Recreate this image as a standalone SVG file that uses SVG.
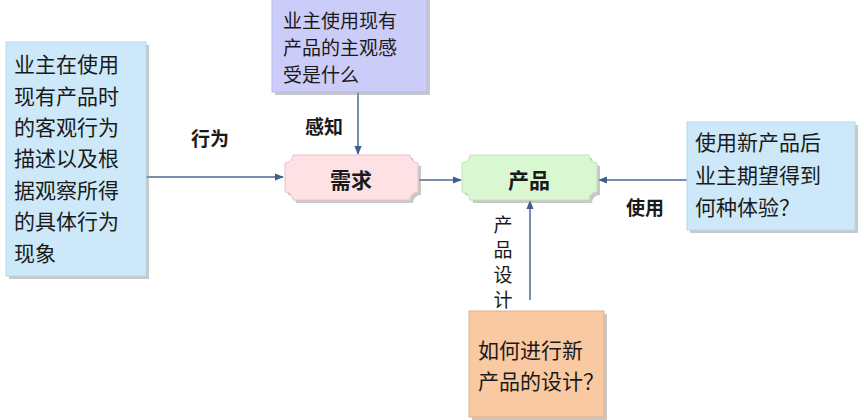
<svg xmlns="http://www.w3.org/2000/svg" width="864" height="420" viewBox="0 0 864 420">
<defs>
<marker id="ah" viewBox="0 0 10 10" refX="9" refY="5" markerWidth="9" markerHeight="9" markerUnits="userSpaceOnUse" orient="auto">
<path d="M0,1 L10,5 L0,9 Z" fill="#3d5f8a"/>
</marker>
</defs>
<style>
text{font-family:"Noto Sans CJK SC","Noto Sans",sans-serif;fill:#1a1a1a}
.t{font-size:21px}
.s{font-size:19px}
.b{font-size:19px;font-weight:bold}
.c{font-size:21px;font-weight:bold}
.shadow{fill:#9a9a9a;opacity:0.55}
.line{stroke:#4a6890;stroke-width:1.5;fill:none}
</style>
<rect width="864" height="420" fill="#ffffff"/>
<g id="connectors">
<line class="line" x1="146" y1="177" x2="283" y2="177" marker-end="url(#ah)"/>
<line class="line" x1="358" y1="92" x2="358" y2="154" marker-end="url(#ah)"/>
<line class="line" x1="419" y1="180" x2="461" y2="180" marker-end="url(#ah)"/>
<line class="line" x1="687" y1="180" x2="599" y2="180" marker-end="url(#ah)"/>
<line class="line" x1="530" y1="300" x2="530" y2="201" marker-end="url(#ah)"/>
<text class="b" x="210" y="146" text-anchor="middle">行为</text>
<text class="b" x="324" y="134" text-anchor="middle">感知</text>
<text class="b" x="645" y="215" text-anchor="middle">使用</text>
<text class="s" x="503" y="232" text-anchor="middle">产</text>
<text class="s" x="503" y="257" text-anchor="middle">品</text>
<text class="s" x="503" y="282" text-anchor="middle">设</text>
<text class="s" x="503" y="307" text-anchor="middle">计</text>
</g>
<g id="left">
<rect class="shadow" x="9" y="45" width="140" height="234"/>
<rect x="6" y="42" width="140" height="234" fill="#cde9f9" stroke="#b8d8ee" stroke-width="1"/>
<text class="t" x="14" y="72">业主在使用</text>
<text class="t" x="14" y="104">现有产品时</text>
<text class="t" x="14" y="135">的客观行为</text>
<text class="t" x="14" y="166">描述以及根</text>
<text class="t" x="14" y="198">据观察所得</text>
<text class="t" x="14" y="229">的具体行为</text>
<text class="t" x="14" y="261">现象</text>
</g>
<g id="top">
<rect class="shadow" x="275" y="0" width="155" height="95"/>
<rect x="272" y="-1" width="155" height="93" fill="#ccccf8" stroke="#b8b8e8" stroke-width="1"/>
<text class="s" x="283" y="28">业主使用现有</text>
<text class="s" x="283" y="55">产品的主观感</text>
<text class="s" x="283" y="82">受是什么</text>
</g>
<g id="xuqiu">
<path class="shadow" d="M296,158 H413 A8,8 0 0 0 421,166 V195 A8,8 0 0 0 413,203 H296 A8,8 0 0 0 288,195 V166 A8,8 0 0 0 296,158 Z"/>
<path d="M293,155 H410 A8,8 0 0 0 418,163 V192 A8,8 0 0 0 410,200 H293 A8,8 0 0 0 285,192 V163 A8,8 0 0 0 293,155 Z" fill="#fde1e5" stroke="#e8c4ca" stroke-width="1"/>
<text class="c" x="351" y="188" text-anchor="middle">需求</text>
</g>
<g id="chanpin">
<path class="shadow" d="M473,158 H592 A8,8 0 0 0 600,166 V195 A8,8 0 0 0 592,203 H473 A8,8 0 0 0 465,195 V166 A8,8 0 0 0 473,158 Z"/>
<path d="M470,155 H589 A8,8 0 0 0 597,163 V192 A8,8 0 0 0 589,200 H470 A8,8 0 0 0 462,192 V163 A8,8 0 0 0 470,155 Z" fill="#d9f8d2" stroke="#bfe3b8" stroke-width="1"/>
<text class="c" x="529" y="188" text-anchor="middle">产品</text>
</g>
<g id="right">
<rect class="shadow" x="690" y="125" width="168" height="108"/>
<rect x="687" y="122" width="168" height="108" fill="#cde9f9" stroke="#b8d8ee" stroke-width="1"/>
<text class="t" x="695" y="150">使用新产品后</text>
<text class="t" x="695" y="183">业主期望得到</text>
<text class="t" x="695" y="215">何种体验？</text>
</g>
<g id="bottom">
<rect class="shadow" x="472" y="314" width="135" height="106"/>
<rect x="469" y="311" width="135" height="106" fill="#f9c9a1" stroke="#e2b088" stroke-width="1"/>
<text class="t" x="478" y="358">如何进行新</text>
<text class="t" x="478" y="389">产品的设计？</text>
</g>
</svg>
